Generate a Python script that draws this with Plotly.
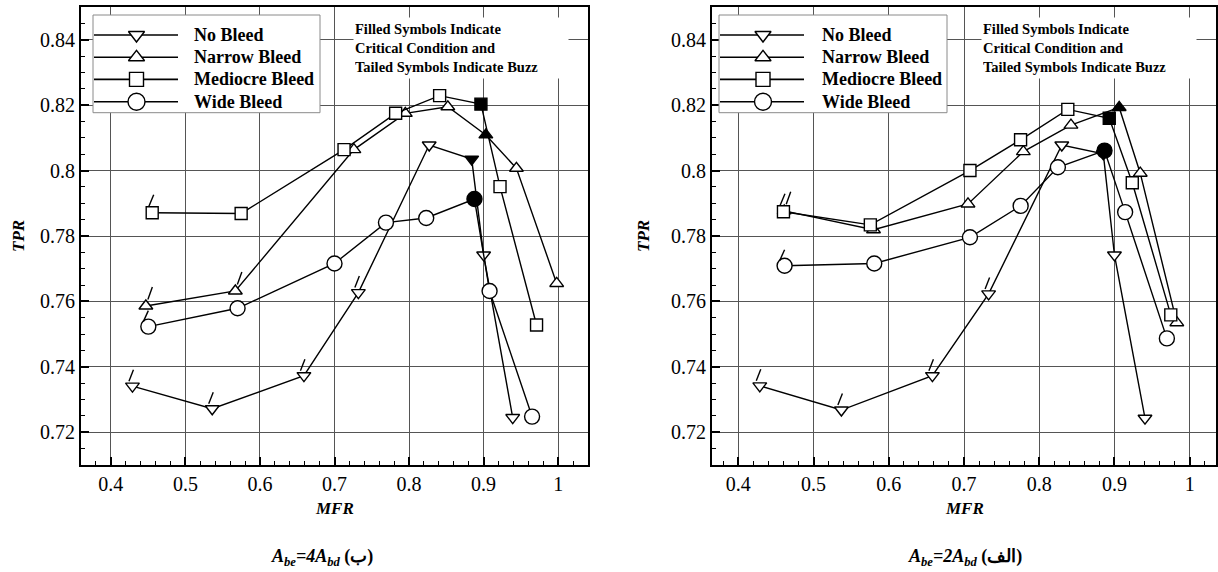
import plotly.graph_objects as go

# ---------------- data ----------------
# Panel (b): A_be = 4 A_bd
nb_4_mfr = [0.429, 0.536, 0.659, 0.732, 0.827, 0.884, 0.900, 0.939]
nb_4_tpr = [0.7341, 0.7272, 0.7373, 0.7627, 0.8078, 0.8035, 0.7742, 0.7245]
nb_4_state = ["buzz", "buzz", "buzz", "buzz", "", "crit", "", ""]

nar_4_mfr = [0.447, 0.567, 0.726, 0.795, 0.852, 0.903, 0.944, 0.998]
nar_4_tpr = [0.7586, 0.7632, 0.8064, 0.8175, 0.8195, 0.8109, 0.8007, 0.7655]
nar_4_state = ["buzz", "buzz", "", "", "", "crit", "", ""]

med_4_mfr = [0.4555, 0.5748, 0.7128, 0.782, 0.841, 0.8964, 0.922, 0.971]
med_4_tpr = [0.7871, 0.7869, 0.8064, 0.8175, 0.8229, 0.8203, 0.7951, 0.7528]
med_4_state = ["buzz", "", "", "", "", "crit", "", ""]

wid_4_mfr = [0.4503, 0.5700, 0.700, 0.769, 0.823, 0.8877, 0.908, 0.965]
wid_4_tpr = [0.7523, 0.7579, 0.7716, 0.7841, 0.7855, 0.7913, 0.7632, 0.7248]
wid_4_state = ["buzz", "", "", "", "", "crit", "", ""]

# Panel (a): A_be = 2 A_bd
nb_2_mfr = [0.4285, 0.537, 0.658, 0.7327, 0.830, 0.8852, 0.900, 0.9406]
nb_2_tpr = [0.7342, 0.7268, 0.7373, 0.7623, 0.8078, 0.8051, 0.7742, 0.7243]
nb_2_state = ["buzz", "buzz", "buzz", "buzz", "", "crit", "", ""]

nar_2_mfr = [0.461, 0.5797, 0.7053, 0.7789, 0.8422, 0.9063, 0.9343, 0.9829]
nar_2_tpr = [0.7877, 0.7819, 0.7898, 0.8058, 0.8139, 0.8193, 0.7992, 0.7535]
nar_2_state = ["buzz", "", "", "", "", "crit", "", ""]

med_2_mfr = [0.460, 0.5755, 0.7079, 0.7752, 0.838, 0.8931, 0.9237, 0.9749]
med_2_tpr = [0.7874, 0.7834, 0.8000, 0.8094, 0.8187, 0.8160, 0.7963, 0.7559]
med_2_state = ["buzz", "", "", "", "", "crit", "", ""]

wid_2_mfr = [0.4615, 0.5807, 0.7079, 0.7753, 0.8248, 0.8868, 0.9142, 0.9697]
wid_2_tpr = [0.7709, 0.7716, 0.7796, 0.7892, 0.8010, 0.8061, 0.7873, 0.7487]
wid_2_state = ["buzz", "", "", "", "", "crit", "", ""]

series_names = ["No Bleed", "Narrow Bleed", "Mediocre Bleed", "Wide Bleed"]

x_tickvals = [0.4, 0.5, 0.6, 0.7, 0.8, 0.9, 1.0]
x_ticktext = ["0.4", "0.5", "0.6", "0.7", "0.8", "0.9", "1"]
y_tickvals = [0.72, 0.74, 0.76, 0.78, 0.80, 0.82, 0.84]
y_ticktext = ["0.72", "0.74", "0.76", "0.78", "0.8", "0.82", "0.84"]

note_text = ("Filled Symbols Indicate<br>Critical Condition and<br>"
             "Tailed Symbols Indicate Buzz")
caption_4 = "<b><i>A<sub>be</sub>=4A<sub>bd</sub></i> (ب)</b>"
caption_2 = "<b><i>A<sub>be</sub>=2A<sub>bd</sub></i> (الف)</b>"

# ---------------- styling ----------------
W, H = 1218, 572
SERIF = "Liberation Serif"

symbols = ["triangle-down", "triangle-up", "square", "circle"]
sizes = [12, 12, 12, 15]
# buzz tail (pixel offsets from marker centre, y upwards)
tails = {
    "triangle-down": (-3.5, 5.0, 1.0, 16.5),
    "triangle-up": (2.0, 6.5, 6.5, 19.0),
    "square": (-3.5, 6.0, 1.5, 18.0),
    "circle": (-5.0, 5.0, 0.0, 16.0),
}

fig = go.Figure()
shapes = []
annotations = []


def add_panel(data, xa, ya):
    for (xs, ys, states), sym, sz in zip(data, symbols, sizes):
        fills = ["black" if s == "crit" else "white" for s in states]
        fig.add_trace(go.Scatter(
            x=xs, y=ys, mode="lines+markers", xaxis=xa, yaxis=ya,
            line=dict(color="black", width=1.4),
            marker=dict(symbol=sym, size=sz, color=fills,
                        line=dict(color="black", width=1.4)),
            showlegend=False, hoverinfo="skip"))
        dx0, dy0, dx1, dy1 = tails[sym]
        for x, y, s in zip(xs, ys, states):
            if s == "buzz":
                shapes.append(dict(
                    type="line", xref=xa, yref=ya,
                    xsizemode="pixel", ysizemode="pixel",
                    xanchor=x, yanchor=y, x0=dx0, x1=dx1, y0=dy0, y1=dy1,
                    line=dict(color="black", width=1.4)))


add_panel([(nb_4_mfr, nb_4_tpr, nb_4_state),
           (nar_4_mfr, nar_4_tpr, nar_4_state),
           (med_4_mfr, med_4_tpr, med_4_state),
           (wid_4_mfr, wid_4_tpr, wid_4_state)], "x", "y")
add_panel([(nb_2_mfr, nb_2_tpr, nb_2_state),
           (nar_2_mfr, nar_2_tpr, nar_2_state),
           (med_2_mfr, med_2_tpr, med_2_state),
           (wid_2_mfr, wid_2_tpr, wid_2_state)], "x2", "y2")


# ---------------- legends (drawn in a pixel-space overlay axis) ----------------
def add_legend(left, right, top, bottom, line_x0, line_x1, marker_x, text_x, rows):
    fig.add_trace(go.Scatter(
        x=[left, right, right, left, left], y=[top, top, bottom, bottom, top],
        mode="lines", fill="toself", fillcolor="white",
        line=dict(color="#8a8a8a", width=1), xaxis="x3", yaxis="y3",
        showlegend=False, hoverinfo="skip"))
    for name, sym, sz, yr in zip(series_names, symbols, sizes, rows):
        fig.add_trace(go.Scatter(
            x=[line_x0, line_x1], y=[yr, yr], mode="lines",
            line=dict(color="black", width=1.6), xaxis="x3", yaxis="y3",
            showlegend=False, hoverinfo="skip"))
        fig.add_trace(go.Scatter(
            x=[marker_x], y=[yr], mode="markers",
            marker=dict(symbol=sym, size=sz + 2, color="white",
                        line=dict(color="black", width=1.4)),
            xaxis="x3", yaxis="y3", showlegend=False, hoverinfo="skip"))
        annotations.append(dict(
            xref="x3", yref="y3", x=text_x, y=yr, text="<b>%s</b>" % name,
            showarrow=False, xanchor="left", yanchor="middle",
            font=dict(family=SERIF, size=18, color="black")))


legend_rows = [35, 57.3, 79.4, 101.7]
add_legend(93, 320, 15, 112.7, 94, 178, 136.5, 192, legend_rows)
add_legend(719, 947, 15, 112.7, 720, 804, 763, 820, legend_rows)

for x_note in (353, 981):
    annotations.append(dict(
        xref="x3", yref="y3", x=x_note, y=17, text="<b>%s</b>" % note_text,
        showarrow=False, xanchor="left", yanchor="top", align="left",
        width=212, height=58, borderpad=1, bgcolor="white",
        font=dict(family=SERIF, size=14.5, color="black")))

# axis titles and captions
for xc in (334.5, 964):
    annotations.append(dict(
        xref="x3", yref="y3", x=xc, y=508, text="<b><i>MFR</i></b>",
        showarrow=False, xanchor="center", yanchor="middle",
        font=dict(family=SERIF, size=17, color="black")))
for xc in (18, 643):
    annotations.append(dict(
        xref="x3", yref="y3", x=xc, y=236, text="<b><i>TPR</i></b>",
        showarrow=False, xanchor="center", yanchor="middle", textangle=-90,
        font=dict(family=SERIF, size=17, color="black")))
annotations.append(dict(
    xref="x3", yref="y3", x=322, y=557, text=caption_4, showarrow=False,
    xanchor="center", yanchor="middle",
    font=dict(family=SERIF, size=18, color="black")))
annotations.append(dict(
    xref="x3", yref="y3", x=965, y=557, text=caption_2, showarrow=False,
    xanchor="center", yanchor="middle",
    font=dict(family=SERIF, size=18, color="black")))

# ---------------- axes ----------------
y_dom = [1 - 465 / H, 1 - 7 / H]
common_x = dict(
    tickmode="array", tickvals=x_tickvals, ticktext=x_ticktext,
    ticks="inside", ticklen=8, tickwidth=2, tickcolor="black",
    showline=True, linecolor="black", linewidth=2, mirror=True,
    showgrid=True, gridcolor="#555555", gridwidth=1, zeroline=False,
    minor=dict(ticks="inside", ticklen=4, tickwidth=1, tickcolor="black",
               tick0=0.4, dtick=0.02, showgrid=False),
    tickfont=dict(family=SERIF, size=20, color="black"),
    fixedrange=True)
common_y = dict(
    tickmode="array", tickvals=y_tickvals, ticktext=y_ticktext,
    ticks="inside", ticklen=8, tickwidth=2, tickcolor="black",
    showline=True, linecolor="black", linewidth=2, mirror=True,
    showgrid=True, gridcolor="#555555", gridwidth=1, zeroline=False,
    minor=dict(ticks="inside", ticklen=4, tickwidth=1, tickcolor="black",
               tick0=0.72, dtick=0.005, showgrid=False),
    tickfont=dict(family=SERIF, size=20, color="black"),
    range=[0.71, 0.85], domain=y_dom, fixedrange=True)

fig.update_layout(
    width=W, height=H, margin=dict(l=0, r=0, t=0, b=0),
    paper_bgcolor="white", plot_bgcolor="rgba(0,0,0,0)",
    xaxis=dict(common_x, domain=[81 / W, 588 / W], range=[0.36, 1.04], anchor="y"),
    yaxis=dict(common_y, anchor="x"),
    xaxis2=dict(common_x, domain=[712 / W, 1216 / W], range=[0.365, 1.035], anchor="y2"),
    yaxis2=dict(common_y, anchor="x2"),
    xaxis3=dict(domain=[0, 1], range=[0, W], visible=False, fixedrange=True, anchor="y3"),
    yaxis3=dict(domain=[0, 1], range=[H, 0], visible=False, fixedrange=True, anchor="x3"),
    shapes=shapes, annotations=annotations, showlegend=False,
)

fig.write_html("out.html")
